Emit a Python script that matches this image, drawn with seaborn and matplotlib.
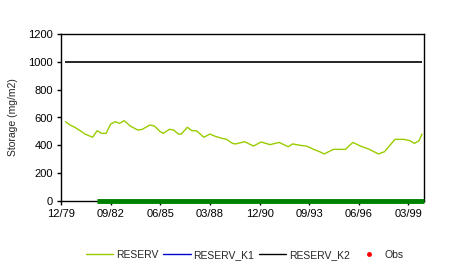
import matplotlib
matplotlib.use("Agg")
import matplotlib.pyplot as plt
from matplotlib.lines import Line2D
import seaborn as sns
import pandas as pd

# ---- data ----
reserv_dates = [
    "1980-03", "1980-06", "1980-09", "1981-01", "1981-04", "1981-09", "1981-12",
    "1982-03", "1982-06", "1982-09", "1982-12", "1983-03", "1983-06", "1983-10",
    "1984-03", "1984-06", "1984-11", "1985-02", "1985-06", "1985-08", "1985-12",
    "1986-03", "1986-06", "1986-08", "1986-12", "1987-03", "1987-06", "1987-11",
    "1988-03", "1988-06", "1988-11", "1989-02", "1989-06", "1989-08", "1990-02",
    "1990-08", "1991-01", "1991-07", "1992-01", "1992-07", "1992-10", "1993-03",
    "1993-07", "1993-09", "1993-12", "1994-04", "1994-07", "1995-01", "1995-05",
    "1995-09", "1996-02", "1996-07", "1997-01", "1997-07", "1997-11", "1998-06",
    "1998-12", "1999-04", "1999-07", "1999-10", "1999-12",
]
reserv_values = [
    570, 546, 530, 503, 481, 458, 505,
    486, 486, 553, 570, 558, 577, 539,
    510, 515, 546, 539, 498, 486, 515,
    510, 481, 481, 530, 505, 505, 458,
    481, 467, 450, 443, 414, 410, 426,
    395, 424, 405, 421, 390, 410, 400,
    395, 386, 371, 354, 338, 371, 371,
    371, 421, 395, 371, 338, 354, 443,
    443, 433, 414, 433, 481,
]
k2_dates = ["1980-03", "1999-12"]
k2_values = [1000, 1000]
base_dates = ["1981-12", "2000-01"]
base_values = [0, 0]

y_ticks = [0, 200, 400, 600, 800, 1000, 1200]
x_tick_dates = ["1979-12", "1982-09", "1985-06", "1988-03", "1990-12",
                "1993-09", "1996-06", "1999-03"]

# ---- plotting ----
sns.set_theme(style="white")
plt.rcParams["font.family"] = ["Liberation Sans", "DejaVu Sans"]

fig = plt.figure(figsize=(4.54, 2.73), dpi=100)
ax = fig.add_axes([61 / 454, 1 - 201 / 273, (424 - 61) / 454, (201 - 34) / 273])

df_r = pd.DataFrame({"date": pd.to_datetime(reserv_dates), "value": reserv_values})
df_k2 = pd.DataFrame({"date": pd.to_datetime(k2_dates), "value": k2_values})
df_b = pd.DataFrame({"date": pd.to_datetime(base_dates), "value": base_values})

sns.lineplot(data=df_b, x="date", y="value", ax=ax, color="#008000",
             linewidth=3.5, clip_on=False, zorder=4, solid_capstyle="butt")
sns.lineplot(data=df_k2, x="date", y="value", ax=ax, color="black", linewidth=1.2,
             solid_capstyle="butt")
sns.lineplot(data=df_r, x="date", y="value", ax=ax, color="#99CC00", linewidth=1.0)

ax.set_xlim(pd.Timestamp("1979-12-01"), pd.Timestamp("2000-01-10"))
ax.set_ylim(0, 1200)
ax.set_yticks(y_ticks)
ax.set_yticklabels([str(v) for v in y_ticks], fontsize=8)
xt = pd.to_datetime(x_tick_dates)
ax.set_xticks(xt)
ax.set_xticklabels([d.strftime("%m/%y") for d in xt], fontsize=8)
ax.set_xlabel("")
ax.set_ylabel("Storage (mg/m2)", fontsize=7.5, labelpad=7)

for s in ax.spines.values():
    s.set_color("black")
    s.set_linewidth(1.0)
ax.tick_params(axis="both", direction="out", length=3, width=1, color="black",
               pad=3, left=True, bottom=True, labelcolor="black")

handles = [
    Line2D([], [], color="#99CC00", lw=1),
    Line2D([], [], color="#0000CC", lw=1),
    Line2D([], [], color="black", lw=1),
    Line2D([], [], color="red", lw=0, marker="o", markersize=2.5),
]
labels = ["RESERV", "RESERV_K1", "RESERV_K2", "Obs"]
fig.legend(handles, labels, loc="center", bbox_to_anchor=(245 / 454, 1 - 255 / 273),
           ncol=4, frameon=False, fontsize=7.5, handlelength=2.6, handletextpad=0.25,
           columnspacing=0.5)

fig.savefig("out.png", dpi=100)
